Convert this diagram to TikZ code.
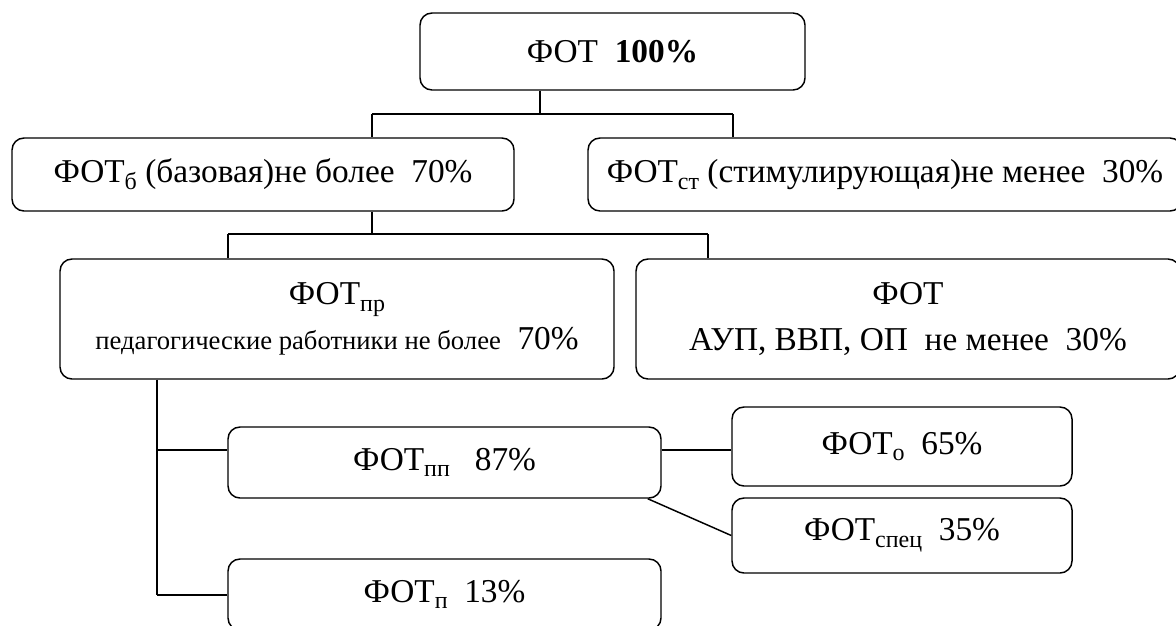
\documentclass[tikz,border=0pt]{standalone}
\usepackage{fontspec}
\setmainfont{Liberation Serif}
\usetikzlibrary{positioning}
\newcommand\lowsub[1]{\raisebox{-5pt}{\fontsize{18}{18}\selectfont #1}}

\begin{document}
\begin{tikzpicture}[x=0.75pt,y=0.75pt,yscale=-1,xscale=1,
  box/.style={draw, line width=1.1pt, rounded corners=9pt, inner sep=0.75pt, align=center,
    font=\fontsize{25}{34}\selectfont},
  link/.style={line width=1.1pt}]
\clip (0,0) rectangle (1176,625);

%Shape: Rounded Rect [id:top]
\node [box, minimum width=288.75pt, minimum height=57.75pt] (fot) at (612.5,51.5) {ФОТ\ \ \textbf{100\%}};
%Shape: Rounded Rect [id:base]
\node [box, minimum width=376.5pt, minimum height=54.75pt] (fotb) at (263,174.5) {ФОТ\lowsub{б} (базовая)не более\ \ 70\%};
%Shape: Rounded Rect [id:stim]
\node [box, minimum width=445.5pt, minimum height=54.75pt] (fotst) at (885,174.5) {ФОТ\lowsub{ст} (стимулирующая)не менее\ \ 30\%};
%Shape: Rounded Rect [id:ped]
\node [box, minimum width=415.5pt, minimum height=90pt] (fotpr) at (337,319) {ФОТ\lowsub{пр}\\{\fontsize{20}{24}\selectfont педагогические работники не более}\ \ 70\%};
%Shape: Rounded Rect [id:aup]
\node [box, minimum width=408pt, minimum height=90pt] (fotaup) at (908,319) {ФОТ\\АУП, ВВП, ОП\ \ не менее\ \ 30\%};
%Shape: Rounded Rect [id:pp]
\node [box, minimum width=324.75pt, minimum height=53.25pt] (fotpp) at (444.5,462.5) {ФОТ\lowsub{пп}\ \ \ 87\%};
%Shape: Rounded Rect [id:o]
\node [box, minimum width=255pt, minimum height=59.25pt] (foto) at (902,446.5) {ФОТ\lowsub{о}\ \ 65\%};
%Shape: Rounded Rect [id:spec]
\node [box, minimum width=255pt, minimum height=56.25pt] (fotspec) at (902,535.5) {ФОТ\lowsub{спец}\ \ 35\%};
%Shape: Rounded Rect [id:p]
\node [box, minimum width=324.75pt, minimum height=53.25pt] (fotp) at (444.5,594.5) {ФОТ\lowsub{п}\ \ 13\%};

%Junctions
\coordinate (j1) at (540,114);
\coordinate (j1l) at (372,114);
\coordinate (j1r) at (733,114);
\coordinate (j2l) at (228,234);
\coordinate (j2r) at (708,234);
\coordinate (j3) at (157,450);
\coordinate (j4) at (157,595);

%Straight Lines
\draw [link] (fot.south -| j1) -- (j1);
\draw [link] (j1l) -- (j1r);
\draw [link] (j1l) -- (j1l |- fotb.north);
\draw [link] (j1r) -- (j1r |- fotst.north);
\draw [link] (fotb.south -| j1l) -- (j1l |- j2l);
\draw [link] (j2l) -- (j2r);
\draw [link] (j2l) -- (j2l |- fotpr.north);
\draw [link] (j2r) -- (j2r |- fotaup.north);
\draw [link] (fotpr.south -| j3) -- (j4);
\draw [link] (j3) -- (j3 -| fotpp.west);
\draw [link] (j4) -- (j4 -| fotp.west);
\draw [link] (fotpp.east |- j3) -- (foto.west |- j3);
\draw [link] ([xshift=-10.5pt]fotpp.south east) -- (fotspec.west);

\end{tikzpicture}
\end{document}
